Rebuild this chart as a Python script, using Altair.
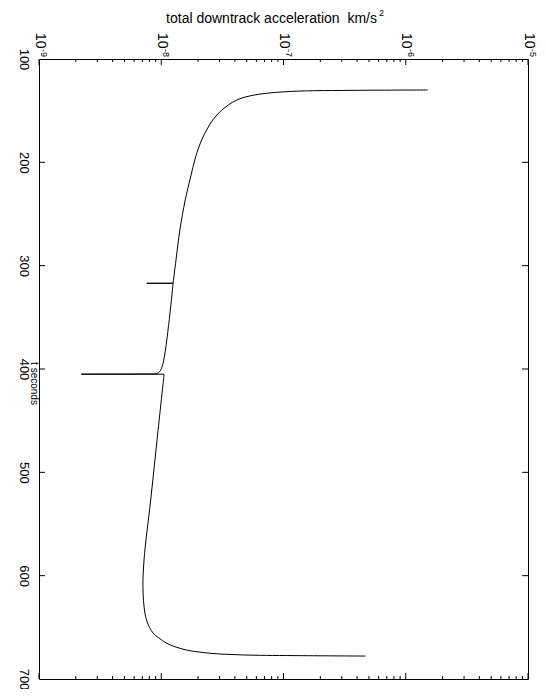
import altair as alt
import pandas as pd

# time (s) and total downtrack acceleration (km/s^2)
# smooth piece 1 (launch transient down to the first glitch)
t_p1 = [130.0, 130.3, 131.45, 134.8, 139.7, 149.4, 159.0, 168.7, 178.4, 194.8,
        215.2, 236.5, 265.5, 294.5, 317.0]
a_p1 = [1.51e-6, 4.2e-7, 1.126e-7, 5.82e-8, 4.15e-8, 3.13e-8, 2.64e-8, 2.35e-8, 2.14e-8, 1.91e-8,
        1.73e-8, 1.57e-8, 1.42e-8, 1.32e-8, 1.25e-8]
# glitch at ~317 s
t_g1 = [317.0, 317.05, 317.1]
a_g1 = [1.25e-8, 7.6e-9, 1.25e-8]
# smooth piece 2
t_p2 = [317.1, 394.5, 402.6, 404.2, 404.8]
a_p2 = [1.25e-8, 1.035e-8, 9.7e-9, 9.3e-9, 8.6e-9]
# drop at ~405 s
t_g2 = [404.8, 405.0, 405.05]
a_g2 = [8.6e-9, 2.22e-9, 1.055e-8]
# smooth piece 3
t_p3 = [405.05, 468.0, 526.7, 584.8, 616.8, 642.9, 655.5, 660.2, 665.2, 668.7,
        672.0, 674.0, 675.6, 676.3, 676.9, 677.4, 677.8]
a_p3 = [1.055e-8, 9.25e-9, 8.2e-9, 7.23e-9, 7.1e-9, 7.57e-9, 8.57e-9, 9.55e-9, 1.10e-8, 1.29e-8,
        1.61e-8, 2.07e-8, 2.83e-8, 3.78e-8, 5.3e-8, 1.36e-7, 4.69e-7]

x_major = [1e-9, 1e-8, 1e-7, 1e-6, 1e-5]
x_exp = ["-9", "-8", "-7", "-6", "-5"]
x_minor = [m * d for d in [1e-9, 1e-8, 1e-7, 1e-6] for m in range(2, 10)]
y_ticks = [100, 200, 300, 400, 500, 600, 700]
y_inner = [200, 300, 400, 500, 600]

W, H = 489, 620
FONT = "Liberation Sans"

smooth = pd.concat([
    pd.DataFrame({"t": t_p1, "a": a_p1, "seg": "p1"}),
    pd.DataFrame({"t": t_p2, "a": a_p2, "seg": "p2"}),
    pd.DataFrame({"t": t_p3, "a": a_p3, "seg": "p3"}),
])
glitch = pd.concat([
    pd.DataFrame({"t": t_g1, "a": a_g1, "seg": "g1"}),
    pd.DataFrame({"t": t_g2, "a": a_g2, "seg": "g2"}),
])

xscale = alt.Scale(type="log", domain=[1e-9, 1e-5], nice=False)
yscale = alt.Scale(domain=[100, 700], reverse=True, nice=False, zero=False)

xaxis = alt.Axis(orient="top", values=x_major, labelExpr="'10'",
                 labelAngle=90, labelAlign="right", labelBaseline="middle",
                 labelPadding=11, ticks=False, domain=False, grid=False,
                 labelFont=FONT, labelFontSize=14, labelColor="black",
                 title="total downtrack acceleration\u00a0 km/s",
                 titleFont=FONT, titleFontSize=14, titleFontWeight="normal",
                 titleColor="black", titleX=232, titleY=-41,
                 titleBaseline="middle", titleAlign="center")
yaxis = alt.Axis(orient="left", values=y_ticks, labelAngle=90,
                 labelAlign="center", labelBaseline="top", labelPadding=10,
                 ticks=False, domain=False, grid=False,
                 labelFont=FONT, labelFontSize=13, labelColor="black",
                 title="t seconds", titleFont=FONT, titleFontSize=10,
                 titleFontWeight="normal", titleColor="black",
                 titleAngle=90, titleX=-1, titleY=324,
                 titleAlign="center", titleBaseline="top")

line = alt.Chart(smooth).mark_line(color="black", strokeWidth=1,
                                   interpolate="catmull-rom").encode(
    x=alt.X("a:Q", scale=xscale, axis=xaxis),
    y=alt.Y("t:Q", scale=yscale, axis=yaxis),
    detail="seg:N",
    order="t:Q",
)
spikes = alt.Chart(glitch).mark_line(color="black", strokeWidth=1).encode(
    x=alt.X("a:Q", scale=xscale), y=alt.Y("t:Q", scale=yscale),
    detail="seg:N", order="t:Q",
)

dmaj = pd.DataFrame({"v": x_major, "e": x_exp})
dmin = pd.DataFrame({"v": x_minor})
dy = pd.DataFrame({"v": y_inner})

sup = alt.Chart(dmaj).mark_text(angle=90, align="left", baseline="middle",
                                font=FONT, fontSize=9, color="black", dy=-5).encode(
    x=alt.X("v:Q", scale=xscale), y=alt.value(-10), text="e:N")
sup_title = alt.Chart(pd.DataFrame({"s": ["2"]})).mark_text(
    align="left", baseline="middle", font=FONT, fontSize=9, color="black").encode(
    x=alt.value(340), y=alt.value(-46), text="s:N")


def xticks(data, top0, top1, bot0, bot1):
    a = alt.Chart(data).mark_rule(color="black", strokeWidth=1).encode(
        x=alt.X("v:Q", scale=xscale), y=alt.value(top0), y2=alt.value(top1))
    b = alt.Chart(data).mark_rule(color="black", strokeWidth=1).encode(
        x=alt.X("v:Q", scale=xscale), y=alt.value(bot0), y2=alt.value(bot1))
    return a + b


tmaj = xticks(dmaj, 0, 6, H - 6, H)
tmin = xticks(dmin, 0, 3, H - 3, H)
yl = alt.Chart(dy).mark_rule(color="black", strokeWidth=1).encode(
    y=alt.Y("v:Q", scale=yscale), x=alt.value(0), x2=alt.value(6))
yr = alt.Chart(dy).mark_rule(color="black", strokeWidth=1).encode(
    y=alt.Y("v:Q", scale=yscale), x=alt.value(W - 6), x2=alt.value(W))

chart = alt.layer(line, spikes, tmaj, tmin, yl, yr, sup, sup_title).properties(
    width=W, height=H,
    autosize=alt.AutoSizeParams(type="none"),
    padding={"left": 31, "top": 51, "right": 10, "bottom": 10},
    background="white",
).configure_view(stroke="black", strokeWidth=1)

chart.save("out.html", embed_options={"renderer": "svg", "actions": False})
